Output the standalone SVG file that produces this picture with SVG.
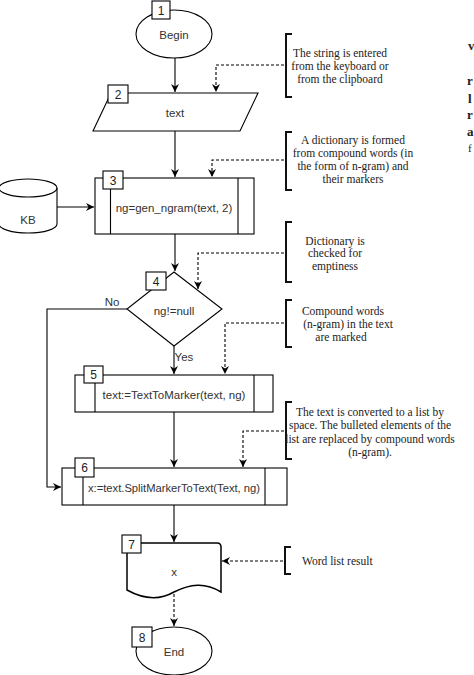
<svg xmlns="http://www.w3.org/2000/svg" width="474" height="675" viewBox="0 0 474 675">
<style>
.s{fill:none;stroke:#000;stroke-width:1.1}
.w{fill:#fff;stroke:#000;stroke-width:1.1}
.d{fill:none;stroke:#000;stroke-width:1.1;stroke-dasharray:3,2}
.br{fill:none;stroke:#111;stroke-width:2}
.t{font-family:"Liberation Sans",Arial,sans-serif;font-size:11.5px;fill:#333;text-anchor:middle}
.n{font-family:"Liberation Sans",Arial,sans-serif;font-size:12px;fill:#222;text-anchor:middle}
.a{font-family:"Liberation Serif","Times New Roman",serif;font-size:11.5px;fill:#222;text-anchor:middle}
.f{font-family:"Liberation Serif","Times New Roman",serif;font-size:13px;font-weight:bold;fill:#222}
</style>
<defs>
<marker id="ar" markerUnits="userSpaceOnUse" markerWidth="9" markerHeight="9" refX="8" refY="4.5" orient="auto">
<path d="M0,0.5 L8,4.5 L0,8.5 L2.5,4.5 Z" fill="#000"/>
</marker>
</defs>
<rect width="474" height="675" fill="#fff"/>

<g id="connectors">
<path class="s" d="M175,58 V92" marker-end="url(#ar)"/>
<path class="s" d="M175,131 V177" marker-end="url(#ar)"/>
<path class="s" d="M57,207 H94" marker-end="url(#ar)"/>
<path class="s" d="M175,234 V271" marker-end="url(#ar)"/>
<path class="s" d="M174,346 V374" marker-end="url(#ar)"/>
<path class="s" d="M174,412 V467" marker-end="url(#ar)"/>
<path class="s" d="M174,505 V542" marker-end="url(#ar)"/>
<path class="s" d="M127,309 H47 V487 H61" marker-end="url(#ar)"/>
<path class="d" d="M284,65 H216 V92" marker-end="url(#ar)"/>
<path class="d" d="M284,160 H212 V177" marker-end="url(#ar)"/>
<path class="d" d="M284,253 H198 V289" marker-end="url(#ar)"/>
<path class="d" d="M284,323 H225 V374" marker-end="url(#ar)"/>
<path class="d" d="M284,431 H243 V467" marker-end="url(#ar)"/>
<path class="d" d="M283,561 H222" marker-end="url(#ar)"/>
<path class="d" d="M174,594 V626" marker-end="url(#ar)"/>
<text class="t" x="112" y="306">No</text>
<text class="t" x="184" y="361">Yes</text>
</g>

<g id="n1">
<ellipse class="w" cx="174" cy="34" rx="38" ry="24"/>
<text class="t" x="174" y="39">Begin</text>
<rect class="w" x="152" y="1" width="18" height="18"/>
<text class="n" x="161" y="14.5">1</text>
</g>

<g id="n2">
<path class="w" d="M111,93 H258 L240,131 H93 Z"/>
<text class="t" x="175" y="117">text</text>
<rect class="w" x="108" y="85" width="20" height="18"/>
<text class="n" x="118" y="98.5">2</text>
</g>

<g id="kb">
<path class="w" d="M-1,188 A29,9 0 0,1 57,188 V224 A29,9 0 0,1 -1,224 Z"/>
<path class="s" d="M-1,188 A29,9 0 0,0 57,188"/>
<text class="t" x="28" y="224">KB</text>
</g>

<g id="n3">
<rect class="w" x="95" y="178" width="159" height="56"/>
<path class="s" d="M110.5,178 V234 M238,178 V234"/>
<text class="t" x="174" y="212">ng=gen_ngram(text, 2)</text>
<rect class="w" x="103" y="171" width="20" height="18"/>
<text class="n" x="113" y="184.5">3</text>
</g>

<g id="n4">
<path class="w" d="M174,272 L222,309 L174,346 L127,309 Z"/>
<text class="t" x="174" y="315">ng!=null</text>
<rect class="w" x="146" y="272" width="20" height="18"/>
<text class="n" x="156" y="285.5">4</text>
</g>

<g id="n5">
<rect class="w" x="75" y="375" width="198" height="37"/>
<path class="s" d="M95,375 V412 M254,375 V412"/>
<text class="t" x="174" y="399">text:=TextToMarker(text, ng)</text>
<rect class="w" x="84" y="366" width="19" height="17"/>
<text class="n" x="93.5" y="379">5</text>
</g>

<g id="n6">
<rect class="w" x="62" y="468" width="225" height="37"/>
<path class="s" d="M83,468 V505 M265,468 V505"/>
<text class="t" x="174" y="492" textLength="172" lengthAdjust="spacingAndGlyphs">x:=text.SplitMarkerToText(Text, ng)</text>
<rect class="w" x="75" y="458" width="19" height="19"/>
<text class="n" x="84.5" y="472">6</text>
</g>

<g id="n7">
<path class="w" style="stroke-width:1.5" d="M127,543 H217 Q221,543 221,547 V592 C205,582 190,584 174,592 C160,600 145,600 127,590 Z"/>
<text class="t" x="174" y="576">x</text>
<rect class="w" x="122" y="535" width="19" height="18"/>
<text class="n" x="131.5" y="548.5">7</text>
</g>

<g id="n8">
<ellipse class="w" cx="174" cy="651" rx="38" ry="24"/>
<text class="t" x="174" y="656">End</text>
<rect class="w" x="132" y="627" width="20" height="20"/>
<text class="n" x="142" y="641.5">8</text>
</g>

<g id="c1">
<path class="br" d="M292,34 H286 V97 H292"/>
<text class="a" x="340" y="57">The string is entered</text>
<text class="a" x="340" y="70">from the keyboard or</text>
<text class="a" x="340" y="83">from the clipboard</text>
</g>
<g id="c2">
<path class="br" d="M292,132 H286 V190 H292"/>
<text class="a" x="353" y="144">A dictionary is formed</text>
<text class="a" x="353" y="157">from compound words (in</text>
<text class="a" x="353" y="170">the form of n-gram) and</text>
<text class="a" x="353" y="183">their markers</text>
</g>
<g id="c3">
<path class="br" d="M292,222 H286 V282 H292"/>
<text class="a" x="335" y="245">Dictionary is</text>
<text class="a" x="335" y="257">checked for</text>
<text class="a" x="335" y="270">emptiness</text>
</g>
<g id="c4">
<path class="br" d="M292,300 H286 V347 H292"/>
<text class="a" x="343" y="315">Compound words</text>
<text class="a" x="348" y="328">(n-gram) in the text</text>
<text class="a" x="341" y="341">are marked</text>
</g>
<g id="c5">
<path class="br" d="M292,402 H286 V459 H292"/>
<text class="a" x="370" y="416">The text is converted to a list by</text>
<text class="a" x="370" y="429">space. The bulleted elements of the</text>
<text class="a" x="370" y="443">list are replaced by compound words</text>
<text class="a" x="370" y="456">(n-gram).</text>
</g>
<g id="c6">
<path class="br" d="M291,547 H285 V574 H291"/>
<text class="a" x="302" y="565" style="text-anchor:start">Word list result</text>
</g>

<g id="edge-fragments">
<text class="f" x="468" y="50">v</text>
<text class="f" x="467" y="85">r</text>
<text class="f" x="468" y="103">l</text>
<text class="f" x="467" y="119">r</text>
<text class="f" x="467" y="136">a</text>
<text class="f" x="468" y="152" style="font-weight:normal;font-size:11px">f</text>
</g>
</svg>
